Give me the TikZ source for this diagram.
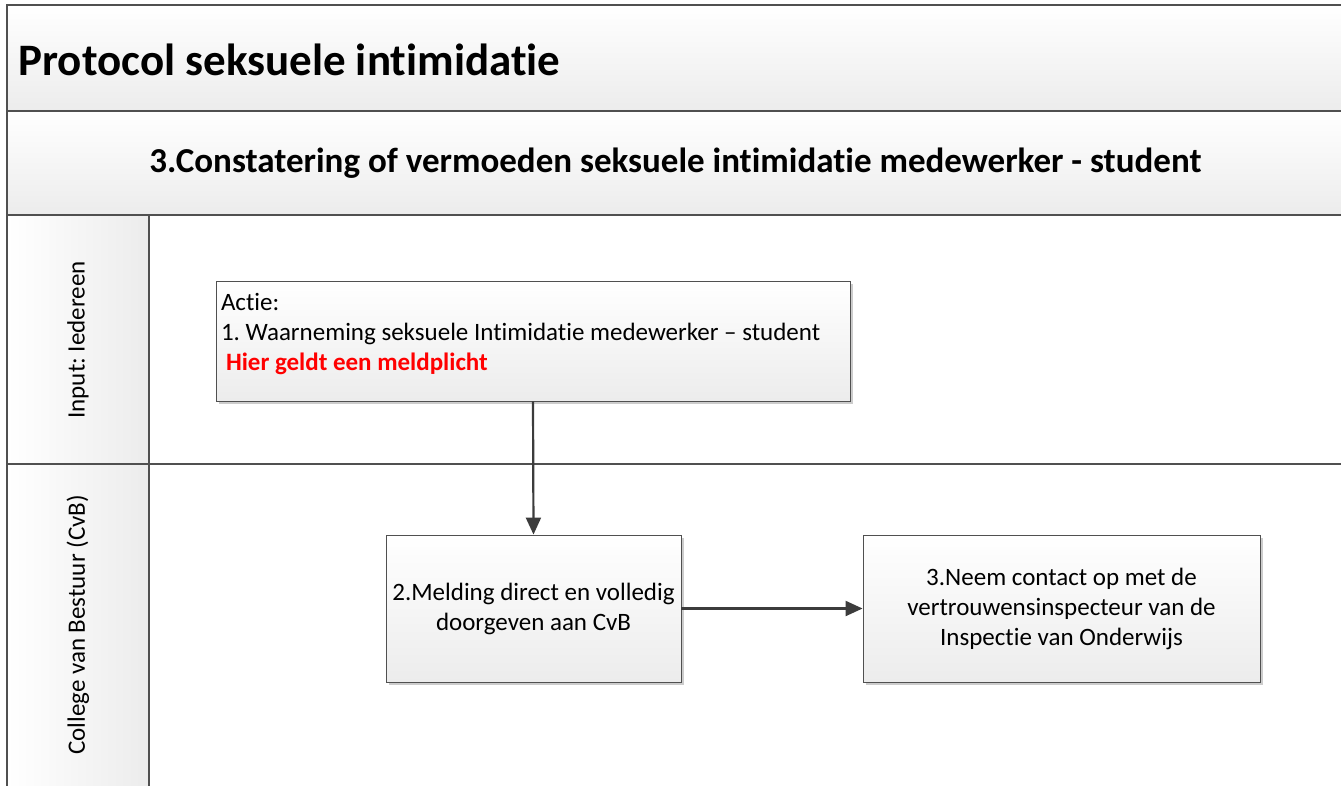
\documentclass[tikz,border=0pt]{standalone}
\usepackage{fontspec}
\setmainfont{Carlito}[Ligatures=NoCommon]
\usetikzlibrary{arrows.meta,shadows}
\definecolor{edge}{HTML}{505050}
\definecolor{ink}{HTML}{3C3C3C}
\definecolor{shade}{HTML}{ECECEC}
\definecolor{alert}{HTML}{FF0000}
\frenchspacing
\tikzset{
  band/.style={draw=edge, line width=2pt, top color=white, bottom color=shade},
  lanehead/.style={draw=edge, line width=2pt, left color=white, right color=shade},
  lane/.style={draw=edge, line width=2pt},
  box/.style={draw=edge, line width=0.9pt, top color=white, bottom color=shade,
    drop shadow={shadow xshift=3pt, shadow yshift=-3pt, fill=black!20, opacity=1},
    font=\fontsize{25}{30}\selectfont, align=center},
  flow/.style={draw=ink, line width=2.2pt, -{Triangle[length=17pt,width=15pt]}},
  lab/.style={font=\fontsize{25}{30}\selectfont, rotate=90},
}
\begin{document}
\begin{tikzpicture}[x=1pt,y=-1pt]
  \useasboundingbox (0,0) rectangle (1341,785);
  \clip (0,0) rectangle (1341,785);
  \fill[white] (0,0) rectangle (1341,785);

  % header bands
  \draw[band] (7,5) rectangle (1350,111);
  \draw[band] (7,111) rectangle (1350,215);
  \node[anchor=west, font=\fontsize{45}{50}\selectfont\bfseries] (title) at (15,60) {Protocol seksuele intimidatie};
  \node[font=\fontsize{35}{40}\selectfont\bfseries] (sub) at (675.5,163) {3.Constatering of vermoeden seksuele intimidatie medewerker - student};

  % lanes
  \draw[lane] (149,215) rectangle (1350,464);
  \draw[lane] (149,464) rectangle (1350,800);
  \draw[lanehead] (7,215) rectangle (149,464);
  \draw[lanehead] (7,464) rectangle (149,800);
  \node[lab] (input) at (78,340) {Input: Iedereen};
  \node[lab] (board) at (78,625) {College van Bestuur (CvB)};

  % steps
  \node[box, inner sep=0pt, minimum width=634pt, minimum height=120pt, align=left] (obs) at (533,341)
    {\parbox[c][120pt][t]{624pt}{\vspace*{12pt}Actie:\\
     1. Waarneming seksuele Intimidatie medewerker – student\\
     \hspace*{5pt}\textcolor{alert}{\bfseries Hier geldt een meldplicht}}};
  \node[box, minimum width=295pt, minimum height=147pt] (cvb) at (533.5,608.5)
    {2.Melding direct en volledig\\doorgeven aan CvB};
  \node[box, minimum width=397pt, minimum height=147pt] (insp) at (1061.5,608.5)
    {3.Neem contact op met de\\vertrouwensinspecteur van de\\Inspectie van Onderwijs};

  \draw[flow] (obs.south) -- (cvb.north);
  \draw[flow] (cvb.east) -- (insp.west);
\end{tikzpicture}
\end{document}
